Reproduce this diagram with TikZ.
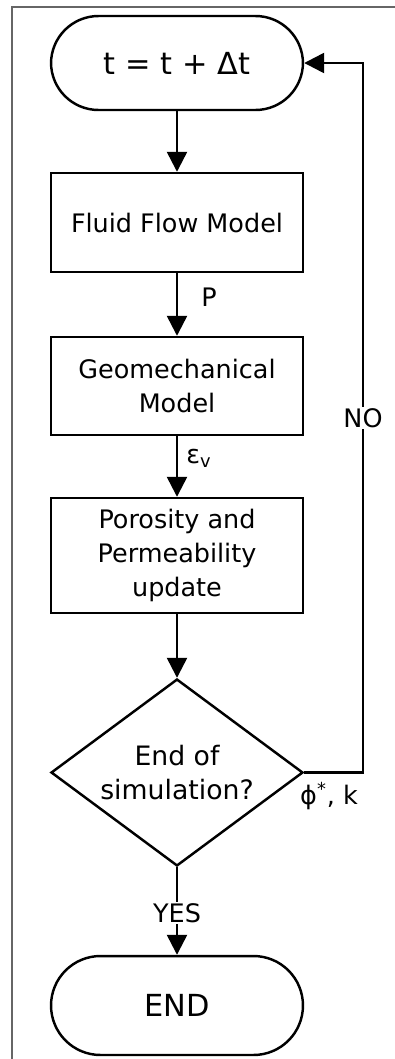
\documentclass[tikz,border=0pt]{standalone}
\usepackage{fontspec}
\setmainfont{DejaVu Sans}
\usetikzlibrary{shapes.geometric,arrows.meta}
\begin{document}
\begin{tikzpicture}[x=0.02cm,y=-0.02cm,
  every node/.style={font=\fontsize{14.5}{19.4}\selectfont},
  term/.style={draw, line width=1.4pt, minimum width=5.04cm, rounded corners=0.95cm, font=\fontsize{17.3}{20}\selectfont},
  box/.style={draw, line width=1.4pt, minimum width=5.04cm, align=center},
  dec/.style={draw, line width=1.4pt, diamond, aspect=1.35, inner sep=0pt, minimum width=5.04cm, minimum height=3.74cm, align=center, font=\fontsize{15.2}{19}\selectfont},
  flow/.style={line width=1.4pt, -{Triangle[length=0.4cm,width=0.4cm]}},
  lab/.style={fill=white, inner sep=1pt}]
\useasboundingbox (0,0) rectangle (395,1059);
\draw[black!60, line width=0.6pt] (12,1059) -- (12,7) -- (395,7);
\node[term, minimum height=1.88cm] (1) at (177,63) {t = t + Δt};
\node[box, minimum height=1.98cm] (2) at (177,222.5) {Fluid Flow Model};
\node[box, minimum height=1.96cm] (3) at (177,386) {Geomechanical\\Model};
\node[box, minimum height=2.3cm] (4) at (177,555.5) {Porosity and\\Permeability\\update};
\node[dec] (5) at (177,772.5) {End of\\simulation?};
\node[term, minimum height=1.98cm, rounded corners=0.99cm] (6) at (177,1005.5) {END};
\coordinate (7) at (363,63);
\path[draw,flow] (1) -- (2);
\path[draw,flow] (2) -- (3);
\path[draw,flow] (3) -- (4);
\path[draw,flow] (4) -- (5);
\path[draw,flow] (5) -- (6);
\path[draw,flow] (5.east) -| (7) -- (1.east);
\node (p) at (209,297) {P};
\node (eps) at (199,458) {ε\textsubscript{v}};
\node[lab] (no) at (363,418) {NO};
\node[lab] (yes) at (177,913) {YES};
\node (phik) at (329,796) {ϕ\textsuperscript{*}, k};
\end{tikzpicture}
\end{document}
